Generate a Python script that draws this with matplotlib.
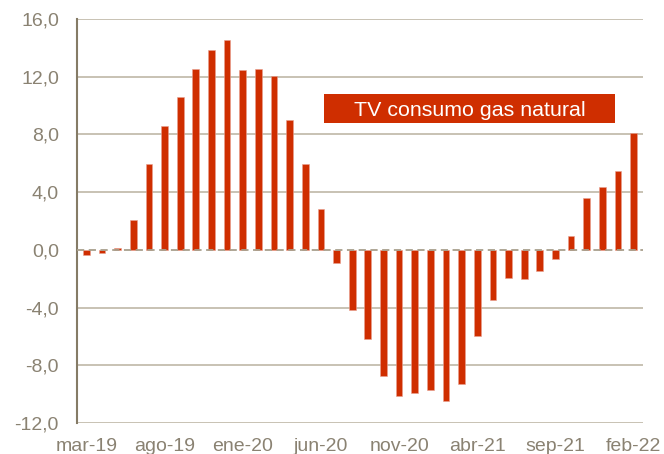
import matplotlib
matplotlib.use('Agg')
import matplotlib.pyplot as plt
from matplotlib.patches import Rectangle
import numpy as np

months = ['mar-19', 'abr-19', 'may-19', 'jun-19', 'jul-19', 'ago-19', 'sep-19', 'oct-19',
          'nov-19', 'dic-19', 'ene-20', 'feb-20', 'mar-20', 'abr-20', 'may-20', 'jun-20',
          'jul-20', 'ago-20', 'sep-20', 'oct-20', 'nov-20', 'dic-20', 'ene-21', 'feb-21',
          'mar-21', 'abr-21', 'may-21', 'jun-21', 'jul-21', 'ago-21', 'sep-21', 'oct-21',
          'nov-21', 'dic-21', 'ene-22', 'feb-22']
tv_gas = [-0.35, -0.23, 0.1, 2.07, 5.94, 8.59, 10.57, 12.54,
          13.86, 14.57, 12.45, 12.52, 12.02, 9.02, 5.98, 2.83,
          -0.92, -4.17, -6.19, -8.72, -10.15, -9.94, -9.71, -10.47,
          -9.32, -5.98, -3.48, -1.96, -2.03, -1.45, -0.64, 0.97,
          3.57, 4.35, 5.46, 8.13]
y_ticks = [-12, -8, -4, 0, 4, 8, 12, 16]

bar_color = '#CF2E00'
text_color = '#8A8272'
grid_color = '#C4BDAE'
spine_color = '#857B66'

plt.rcParams['font.family'] = ['Liberation Sans', 'DejaVu Sans']

fig = plt.figure(figsize=(6.64, 4.54), dpi=100)
ax = fig.add_axes([77 / 664, 31 / 454, 566 / 664, 404 / 454])

x = np.arange(len(months))
ax.bar(x, tv_gas, width=0.43, color=bar_color, edgecolor='#E8A090', linewidth=0.4, zorder=3)

ax.set_ylim(-12, 16)
ax.set_xlim(-0.6, len(months) - 0.4)
ax.set_yticks(y_ticks)
ax.set_yticklabels([f'{v:.1f}'.replace('.', ',') for v in y_ticks])
for v in y_ticks:
    if v != 0:
        ax.axhline(v, color=grid_color, linewidth=1.3, zorder=1)
ax.axhline(0, color='#A89F8C', linewidth=1.3, linestyle=(0, (4, 2.5)), zorder=4)

ax.set_xticks(x[::5])
ax.set_xticklabels(months[::5])

ax.tick_params(axis='both', length=0, labelsize=14, colors=text_color)
ax.tick_params(axis='y', pad=13)
ax.tick_params(axis='x', pad=11)

for side in ['top', 'right', 'bottom']:
    ax.spines[side].set_visible(False)
ax.spines['left'].set_color(spine_color)
ax.spines['left'].set_linewidth(1.5)

# series label in a filled box
box_x0, box_x1 = 0.436, 0.9505
box_y0, box_y1 = 0.7426, 0.814
ax.add_patch(Rectangle((box_x0, box_y0), box_x1 - box_x0, box_y1 - box_y0,
                       transform=ax.transAxes, facecolor=bar_color, edgecolor='none', zorder=5))
ax.text((box_x0 + box_x1) / 2, (box_y0 + box_y1) / 2, 'TV consumo gas natural',
        transform=ax.transAxes, ha='center', va='center_baseline', fontsize=15.4,
        color='white', zorder=6)

fig.savefig('out.png', dpi=100)
